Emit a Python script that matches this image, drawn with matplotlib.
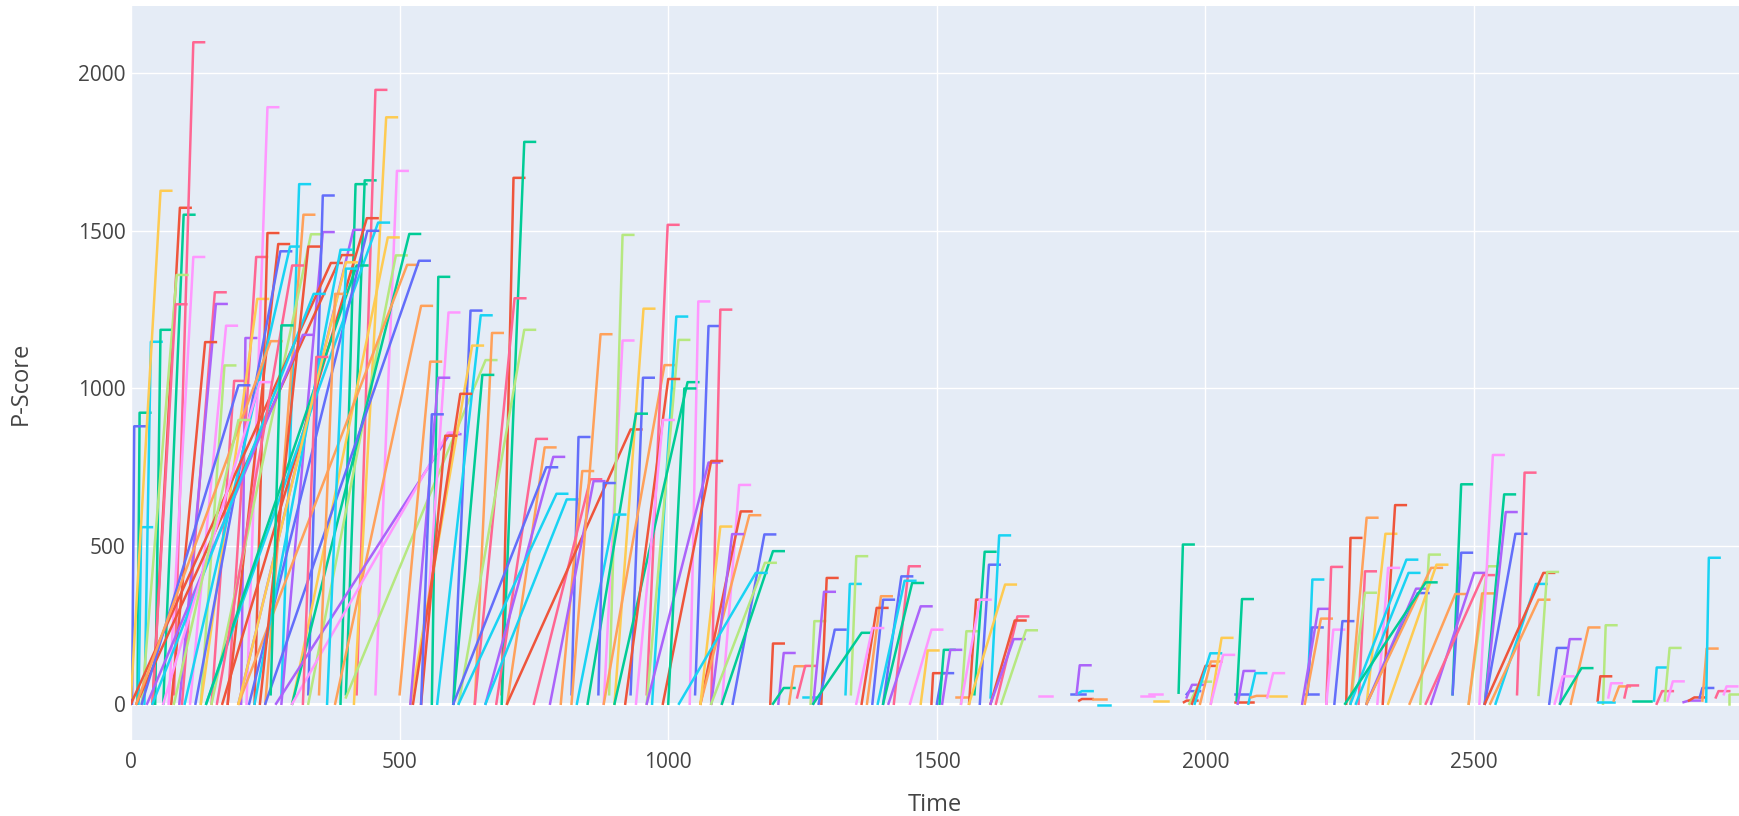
import matplotlib.pyplot as plt

plt.rcParams['font.family'] = ['Open Sans', 'DejaVu Sans']

# plotly default qualitative colours, by one-letter code
palette = {'B': '#636EFA', 'R': '#EF553B', 'G': '#00CC96', 'P': '#AB63FA',
           'O': '#FFA15A', 'C': '#19D3F3', 'K': '#FF6692', 'L': '#B6E880',
           'M': '#FF97FF', 'Y': '#FECB52'}

# each trace: rises from (t_start, y_start) to (t_peak, y_peak), then a short cap
t_start = [12, 14, 2, 25, 45, 0, 40, 60, 80, 70,
           20, 40, 95, 90, 75, 110, 130, 150, 205, 215,
           180, 130, 230, 180, 120, 100, 280, 250, 150, 280,
           330, 0, 390, 400, 200, 10, 420, 415, 170, 140,
           455, 300, 330, 300, 200, 250, 380, 270, 300, 400,
           20, 10, 30, 40, 60, 80, 140, 220, 230, 160,
           200, 240, 350, 260, 320, 365,
           560, 540, 600, 570, 640, 520, 600, 520, 525, 540,
           540, 690, 690, 640, 610, 500, 680, 700, 660, 600,
           610, 660, 820, 800, 750, 700, 780, 820, 880, 890,
           900, 930, 880, 960, 970, 960, 900, 1040, 1050, 1080,
           960, 990, 1100, 1060, 1060, 1060, 1080, 1120, 1100, 1080,
           1020, 850, 830, 870, 920, 940, 1000,
           1190, 1205, 1195, 1225, 1240, 1250, 1265, 1285, 1270, 1280,
           1330, 1340, 1270, 1370, 1360, 1380, 1350, 1420, 1400, 1400,
           1390, 1410, 1450, 1470, 1490, 1500, 1505, 1510, 1545, 1535,
           1560, 1570, 1580, 1600, 1560, 1545, 1610, 1600, 1600, 1620,
           1690,
           1750, 1760, 1760, 1765, 1790, 1800, 1880, 1895, 1905, 1950,
           1960, 1965, 1965, 1970, 1975, 1980, 1990, 2010, 2010, 2055,
           2055, 2058, 2060, 2080, 2085, 2115, 2120,
           2185, 2190, 2190, 2180, 2185, 2225, 2225, 2240, 2262, 2285,
           2270, 2270, 2300, 2330, 2320, 2270, 2280, 2300, 2300, 2400,
           2300, 2340, 2260, 2460, 2460, 2380, 2420, 2410, 2490, 2490,
           2510, 2520, 2520, 2520, 2580, 2540, 2520, 2530, 2620, 2640,
           2660, 2650, 2680, 2660, 2740, 2730, 2730, 2750, 2760, 2780,
           2795, 2835, 2840, 2855, 2860, 2890, 2900, 2920, 2925, 2932,
           2950, 2965, 2975]

y_start = [0, 0, 0, 0, 0, 20, 0, 0, 30, 0,
           0, 0, 0, 0, 0, 0, 0, 0, 0, 0,
           0, 0, 0, 0, 0, 0, 30, 0, 0, 0,
           30, 0, 0, 30, 0, 0, 30, 0, 0, 0,
           30, 0, 0, 0, 0, 0, 0, 0, 0, 20,
           0, 0, 0, 0, 0, 0, 0, 0, 0, 0,
           0, 0, 30, 30, 0, 0,
           0, 0, 0, 0, 0, 0, 0, 0, 0, 0,
           0, 30, 0, 0, 0, 30, 0, 0, 0, 0,
           0, 0, 30, 0, 0, 0, 0, 0, 0, 30,
           0, 30, 0, 30, 0, 0, 0, 0, 30, 0,
           0, 0, 0, 0, 0, 0, 0, 0, 0, 0,
           0, 0, 0, 30, 0, 0, 0,
           0, 0, 0, 0, 20, 20, 0, 0, 0, 0,
           30, 30, 0, 0, 0, 0, 0, 0, 0, 0,
           0, 0, 0, 0, 0, 0, 0, 0, 0, 20,
           0, 30, 0, 20, 0, 0, 0, 0, 0, 0,
           25,
           30, 30, 30, 10, 15, -5, 25, 30, 10, 35,
           5, 30, 20, 0, 0, 0, 0, 0, 0, 30,
           5, 10, 0, 0, 20, 20, 25,
           30, 30, 30, 0, 0, 0, 0, 0, 0, 0,
           0, 0, 0, 0, 0, 0, 0, 0, 0, 0,
           0, 0, 0, 30, 30, 0, 0, 0, 0, 0,
           0, 0, 0, 0, 30, 0, 0, 0, 28, 0,
           0, 0, 0, 0, 0, 10, 5, 20, 10, 20,
           10, 10, 0, 10, 10, 5, 10, 20, 10, 7,
           20, 30, 0]

t_peak = [16, 19, 6, 37, 55, 55, 91, 98, 116, 116,
          85, 83, 156, 158, 138, 177, 174, 192, 213, 254,
          233, 235, 254, 274, 278, 296, 313, 321, 335, 357,
          357, 372, 418, 435, 414, 392, 455, 475, 439, 460,
          495, 478, 493, 518, 514, 536, 540, 593, 590, 660,
          200, 260, 320, 340, 240, 200, 420, 440, 390, 300,
          400, 330, 380, 280, 345, 400,
          572, 591, 632, 651, 672, 635, 654, 572, 613, 585,
          560, 712, 732, 714, 732, 557, 754, 770, 786, 773,
          792, 811, 833, 840, 855, 930, 861, 874, 915, 915,
          954, 953, 993, 999, 1015, 1019, 1036, 1056, 1075, 1097,
          1075, 1080, 1132, 1135, 1151, 1097, 1119, 1179, 1195, 1180,
          1163, 940, 900, 880, 1000, 990, 1030,
          1195, 1215, 1215, 1235, 1255, 1255, 1272, 1295, 1290, 1310,
          1338, 1350, 1360, 1396, 1388, 1400, 1380, 1448, 1434, 1454,
          1440, 1470, 1490, 1483, 1493, 1510, 1513, 1525, 1555, 1540,
          1573, 1589, 1597, 1616, 1627, 1580, 1650, 1645, 1643, 1666,
          1694,
          1755, 1770, 1766, 1770, 1795, 1803, 1885, 1900, 1910, 1958,
          1965, 1970, 1975, 1990, 2000, 2009, 2010, 2030, 2033, 2060,
          2068, 2068, 2071, 2093, 2095, 2126, 2130,
          2190, 2199, 2198, 2210, 2215, 2234, 2238, 2255, 2270, 2297,
          2297, 2300, 2335, 2353, 2340, 2374, 2378, 2392, 2395, 2416,
          2420, 2430, 2410, 2476, 2476, 2465, 2500, 2517, 2525, 2515,
          2535, 2556, 2559, 2577, 2594, 2615, 2629, 2620, 2636, 2654,
          2678, 2665, 2713, 2700, 2745, 2735, 2740, 2755, 2770, 2785,
          2810, 2840, 2850, 2864, 2870, 2900, 2910, 2925, 2933, 2937,
          2955, 2970, 2975]

y_peak = [923, 560, 880, 1148, 1186, 1627, 1573, 1551, 2098, 1417,
          1360, 1267, 1305, 1268, 1147, 1199, 1073, 1024, 1160, 1892,
          1417, 1284, 1493, 1458, 1435, 1450, 1648, 1551, 1489, 1496,
          1612, 1398, 1648, 1660, 1503, 1423, 1947, 1860, 1540, 1526,
          1690, 1479, 1422, 1490, 1392, 1405, 1262, 855, 860, 1090,
          1010, 1150, 1170, 1300, 1020, 900, 1390, 1500, 1440, 1390,
          1400, 1450, 1300, 1200, 1100, 1380,
          1354, 1241, 1247, 1232, 1176, 1136, 1043, 1034, 983, 850,
          918, 1668, 1782, 1286, 1186, 1085, 840, 813, 783, 750,
          666, 648, 846, 738, 712, 870, 706, 1172, 1152, 1487,
          1253, 1034, 1074, 1519, 1228, 1154, 1020, 1276, 1198, 1250,
          765, 770, 694, 610, 598, 562, 538, 537, 484, 447,
          415, 920, 600, 700, 1030, 900, 1000,
          191, 161, 50, 119, 120, 20, 262, 399, 355, 235,
          380, 468, 225, 341, 304, 330, 240, 436, 404, 383,
          390, 309, 235, 169, 97, 97, 171, 171, 230, 20,
          330, 482, 441, 534, 378, 330, 277, 264, 205, 233,
          25,
          30, 40, 122, 15, 15, -5, 25, 30, 10, 505,
          10, 40, 60, 70, 120, 160, 134, 209, 155, 30,
          5, 332, 104, 97, 25, 97, 25,
          30, 394, 242, 301, 270, 434, 235, 262, 526, 420,
          352, 590, 539, 630, 431, 457, 415, 365, 351, 473,
          431, 441, 385, 696, 479, 348, 415, 408, 436, 350,
          789, 664, 608, 539, 733, 380, 415, 330, 418, 177,
          205, 87, 242, 113, 249, 87, 5, 65, 55, 58,
          10, 115, 40, 177, 71, 10, 20, 50, 175, 463,
          40, 55, 30]

colour = ("GCBCGYRGKM" "LKKPRMLKPM" "KYRRBCCOLP" "BRGGPRKYRC"
          "MYLGOBOPML" "BOPCMLGBCK" "YROGKC"
          "GMBCOYGPRR" "BRGKLOKOPB" "CCBOKRPOML" "YBOKCLGMBK"
          "PRMROYPBGL" "CGCBRMG"
          "RPGOKCLRPB" "CLGORBMKBG" "CPMYRBGPLO" "RGBCYMKRPL" "M"
          "BCPROCMMYG" "RBPLRCOYMB" "RGPCOMY"
          "BCBPOKMBRK" "LOYRMCCPBL" "OYGGBOPKLO" "MGPBKCROLB"
          "PMOGLRCMOK" "GCKLMPRBOC" "KML")

assert len(t_start) == len(y_start) == len(t_peak) == len(y_peak) == len(colour)

cap_len = 20

fig = plt.figure(figsize=(17.4, 8.16), dpi=100)
ax = fig.add_axes([131 / 1740, 76 / 816, 1609 / 1740, 734 / 816])
ax.set_facecolor('#E5ECF6')

for t0, y0, t1, y1, c in zip(t_start, y_start, t_peak, y_peak, colour):
    ax.plot([t0, t1, t1 + cap_len], [y0, y1, y1], color=palette[c], lw=1.8)

ax.set_xlim(0, 2995)
ax.set_ylim(-115, 2213)
ax.set_xticks(range(0, 3000, 500))
ax.set_yticks(range(0, 2001, 500))
ax.grid(color='white', lw=1)
ax.set_axisbelow(True)
ax.axhline(0, color='white', lw=2.2, zorder=1)
for s in ax.spines.values():
    s.set_visible(False)
ax.tick_params(length=0, labelsize=15, labelcolor='#444444')
ax.tick_params(axis='x', pad=9)
ax.tick_params(axis='y', pad=4)

fig.text(935 / 1740, 1 - 805 / 816, 'Time', ha='center', va='center',
         fontsize=17, color='#444444')
fig.text(21 / 1740, 1 - 383 / 816, 'P-Score', ha='center', va='center',
         rotation=90, fontsize=17, color='#444444')

fig.savefig('out.png')
